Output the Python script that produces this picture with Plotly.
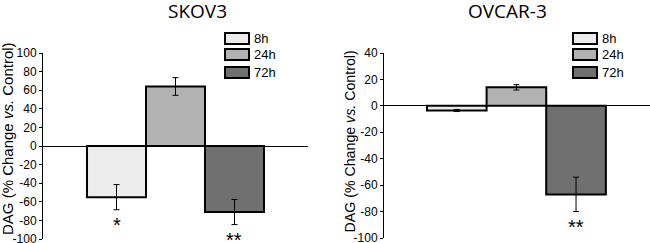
import plotly.graph_objects as go

categories = ["8h", "24h", "72h"]
skov3_values = [-55, 64, -71]
skov3_errors = [13.5, 9.5, 13.5]
skov3_sig = ["*", "", "**"]
ovcar3_values = [-3.5, 14, -67]
ovcar3_errors = [0.8, 2, 13]
ovcar3_sig = ["", "", "**"]
skov3_ticks = [100, 80, 60, 40, 20, 0, -20, -40, -60, -80, -100]
ovcar3_ticks = [40, 20, 0, -20, -40, -60, -80, -100]

colors = ["#ececec", "#b2b2b2", "#707070"]
W, H = 650, 243
FONT = "Liberation Sans, Arial, sans-serif"
TFONT = "Open Sans, sans-serif"

fig = go.Figure()

panels = [
    dict(name="SKOV3", vals=skov3_values, errs=skov3_errors, sig=skov3_sig,
         ticks=skov3_ticks, yr=[-100, 100], px0=43, px1=308, py0=53, py1=239,
         xr=[-1.246, 3.246], ax="x", ay="y", leg_x=225, title_x=197,
         lab_x=7, lab_y=139, lab_size=15),
    dict(name="OVCAR-3", vals=ovcar3_values, errs=ovcar3_errors, sig=ovcar3_sig,
         ticks=ovcar3_ticks, yr=[-100, 40], px0=384, px1=650, py0=53, py1=238,
         xr=[-1.22, 3.24], ax="x2", ay="y2", leg_x=573, title_x=507,
         lab_x=349, lab_y=141.5, lab_size=14.2),
]

annotations = []
shapes = []
for pi, p in enumerate(panels):
    for i, c in enumerate(categories):
        fig.add_trace(go.Bar(
            x=[i], y=[p["vals"][i]], width=1, name=c,
            marker=dict(color=colors[i], line=dict(color="black", width=2)),
            error_y=dict(type="data", array=[p["errs"][i]], color="black",
                         thickness=1, width=3),
            xaxis=p["ax"], yaxis=p["ay"], showlegend=False,
        ))
        if p["sig"][i]:
            annotations.append(dict(
                x=i, y=p["vals"][i] - p["errs"][i], xref=p["ax"], yref=p["ay"],
                text=p["sig"][i], showarrow=False, yanchor="top", yshift=-2,
                font=dict(family=FONT, size=20, color="black")))
        # custom legend
        ly0 = [33, 49, 67][i]
        shapes.append(dict(type="rect", xref="paper", yref="paper",
                           x0=p["leg_x"] / W, x1=(p["leg_x"] + 24) / W,
                           y0=1 - (ly0 + 11) / H, y1=1 - ly0 / H,
                           fillcolor=colors[i], line=dict(color="black", width=2)))
        annotations.append(dict(x=(p["leg_x"] + 27) / W, y=1 - (ly0 + 5.5) / H,
                                xref="paper", yref="paper", text=c, showarrow=False,
                                xanchor="left", yanchor="middle",
                                font=dict(family=FONT, size=13, color="black")))
    # title
    annotations.append(dict(x=p["title_x"] / W, y=1 - 11 / H, xref="paper", yref="paper",
                            text=p["name"], showarrow=False, xanchor="center",
                            yanchor="middle", borderpad=0,
                            font=dict(family=TFONT, size=19, color="black")))
    # y label
    annotations.append(dict(x=p["lab_x"] / W, y=1 - p["lab_y"] / H,
                            xref="paper", yref="paper",
                            text="DAG (% Change <i>vs.</i> Control)", textangle=-90,
                            showarrow=False, xanchor="center", yanchor="middle",
                            font=dict(family=FONT, size=p["lab_size"], color="black")))

layout = dict(
    width=W, height=H, margin=dict(l=0, r=0, t=0, b=0, autoexpand=False),
    plot_bgcolor="white", paper_bgcolor="white", barmode="group",
    annotations=annotations, shapes=shapes, showlegend=False,
)
for pi, p in enumerate(panels):
    sx = "" if pi == 0 else "2"
    layout["xaxis" + sx] = dict(domain=[p["px0"] / W, p["px1"] / W], range=p["xr"],
                                showticklabels=False, showgrid=False, zeroline=False,
                                showline=False, ticks="", anchor="y" + sx,
                                automargin=False)
    layout["yaxis" + sx] = dict(domain=[1 - p["py1"] / H, 1 - p["py0"] / H], range=p["yr"],
                                tickvals=p["ticks"], ticktext=[str(t) for t in p["ticks"]],
                                ticks="outside", ticklen=3,
                                tickwidth=1, tickcolor="black", ticklabeloverflow="allow",
                                showline=True, linecolor="black", linewidth=1,
                                showgrid=False, zeroline=True, zerolinecolor="black",
                                zerolinewidth=1, anchor="x" + sx, automargin=False,
                                tickfont=dict(family=FONT, size=12, color="black"))
fig.update_layout(**layout)
fig.write_html("out.html", config={"displayModeBar": False},
               post_script="document.body.style.margin='0';document.body.style.overflow='hidden';")
